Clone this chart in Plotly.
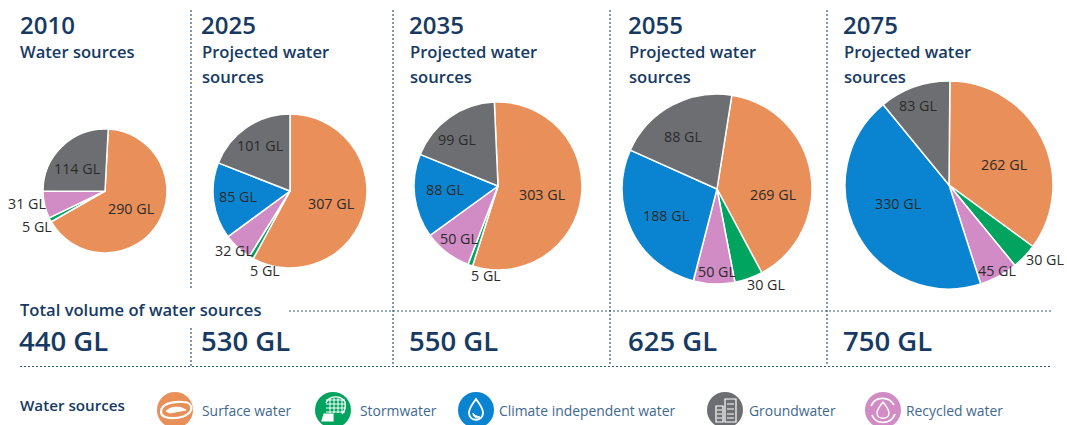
import plotly.graph_objects as go

W, H = 1067, 425
NAVY = "#163a63"
DASH = "#2f5878"
FONT = "Open Sans"

years = ["2010", "2025", "2035", "2055", "2075"]
subtitles = ["Water sources", "Projected water<br>sources", "Projected water<br>sources",
             "Projected water<br>sources", "Projected water<br>sources"]
totals = ["440 GL", "530 GL", "550 GL", "625 GL", "750 GL"]
sources = ["Surface water", "Stormwater", "Recycled water", "Climate independent water", "Groundwater"]
colors = ["#e98f59", "#00a45f", "#d18cc6", "#0a84d0", "#6d6e71"]

# printed values
surface = [290, 307, 303, 269, 262]
storm = [5, 5, 5, 30, 30]
recycled = [31, 32, 50, 50, 45]
climate = [0, 85, 88, 188, 330]
ground = [114, 101, 99, 88, 83]
# wedge sizes as drawn in the picture (the 2055 pie's wedges are not to its printed values)
drawn_2055 = [248, 30, 44, 173, 130]
rotations = [3, 0, 357.5, 9, 0.5]

pie_cx = [105, 290, 498, 717, 949]
pie_cy = [191, 191, 186, 189, 185]
pie_r = [62, 77, 84, 95, 104]
head_x = [20, 201, 409, 628, 843]
total_x = [19, 201, 409, 628, 843]
# label positions (px) per pie, in source order
label_xy = [
    [(131, 208), (37, 226), (27, 203), None, (77, 168)],
    [(331, 203), (265, 270), (234, 250), (238, 196), (260, 145)],
    [(542, 195), (486, 275), (459, 238), (445, 189), (457, 139)],
    [(773, 194), (766, 284), (717, 271), (666, 216), (683, 136)],
    [(1004, 164), (1045, 259), (997, 270), (898, 203), (918, 106)],
]
legend_names = ["Surface water", "Stormwater", "Climate independent water", "Groundwater", "Recycled water"]
legend_cols = ["#e98f59", "#00a45f", "#0a84d0", "#6d6e71", "#d18cc6"]
legend_cx = [175, 333, 476, 725, 883]
legend_tx = [202, 360, 499, 749, 906]


def px(x):
    return x / W


def py(y):
    return 1 - y / H


fig = go.Figure()
ann = []
shapes = []


def text(x, y, s, size, color=NAVY, anchor="left", weight=400):
    ann.append(dict(x=px(x), y=py(y), xref="paper", yref="paper", text=s, borderpad=0, borderwidth=0,
                    showarrow=False, xanchor=anchor, yanchor="middle", align="left",
                    font=dict(family=FONT, size=size, color=color, weight=weight)))


for i, yr in enumerate(years):
    printed = [surface[i], storm[i], recycled[i], climate[i], ground[i]]
    vals = drawn_2055 if yr == "2055" else printed
    cx, cy, r = pie_cx[i], pie_cy[i], pie_r[i]
    fig.add_trace(go.Pie(
        labels=sources, values=vals, sort=False, direction="clockwise", rotation=rotations[i],
        textinfo="none", hoverinfo="label", showlegend=False,
        marker=dict(colors=colors, line=dict(color="white", width=1.5)),
        domain=dict(x=[px(cx - r), px(cx + r)], y=[py(cy + r), py(cy - r)]),
    ))
    for v, xy in zip(printed, label_xy[i]):
        if xy is not None:
            text(xy[0], xy[1], f"{v} GL", 14.3, "#2b2b2b", "center")
    text(head_x[i], 24.5, yr, 24, weight=600)
    sub = subtitles[i].split("<br>")
    text(head_x[i] + (0 if not i else 1), 51.5, sub[0], 16.6, weight=600)
    if len(sub) > 1:
        text(head_x[i] + 1, 76, sub[1], 16.6, weight=600)
    text(total_x[i], 340.5, totals[i], 27.5, weight=600)

text(20, 309, "Total volume of water sources", 16.6, weight=600)
text(20, 405, "Water sources", 15.2, weight=600)


def line(x0, y0, x1, y1):
    shapes.append(dict(type="line", xref="paper", yref="paper", x0=px(x0), y0=py(y0), x1=px(x1), y1=py(y1),
                       line=dict(color=DASH, width=1.2, dash="2px,2px")))


line(191, 10, 191, 290)
line(191, 328, 191, 366)
for x in (393, 610, 827):
    line(x, 10, x, 366)
line(289, 311, 1052, 311)
line(20, 366.5, 1052, 366.5)

for cx, col, name, tx in zip(legend_cx, legend_cols, legend_names, legend_tx):
    shapes.append(dict(type="circle", xref="paper", yref="paper", x0=px(cx - 18), x1=px(cx + 18),
                       y0=py(410 + 18), y1=py(410 - 18), fillcolor=col, line=dict(width=0)))
    text(tx, 410, name, 13.9, "#41688f")


def glyph(cmds, width=1.6, fill="rgba(0,0,0,0)"):
    out = []
    for c in cmds:
        if isinstance(c, str):
            out.append(c)
        else:
            out.append(f"{px(c[0]):.5f},{py(c[1]):.5f}")
    shapes.append(dict(type="path", xref="paper", yref="paper", path=" ".join(out), fillcolor=fill,
                       line=dict(color="white", width=width)))


def g_line(x0, y0, x1, y1, width=1.2):
    glyph(["M", (x0, y0), "L", (x1, y1)], width)


# surface water
glyph(["M", (161, 412), "C", (161, 404), (172, 401), (183, 402), "C", (192, 402), (193, 409), (189, 413),
       "C", (183, 419), (161, 421), (161, 412), "Z"], 2.2)
glyph(["M", (166, 411), "C", (172, 406), (180, 406), (186, 410), "L", (170, 413), "Z"], 1, "white")
# stormwater
glyph(["M", (326, 403), "C", (329, 395), (341, 395), (345, 402), "C", (346, 408), (345, 411), (342, 414)], 1.4)
for x in (330, 334, 338, 342):
    g_line(x, 398, x, 413, 1)
for y in (400, 404, 408, 412):
    g_line(326, y, 345, y, 1)
glyph(["M", (322, 421), "L", (324, 414), "L", (333, 414), "L", (333, 421), "Z"], 1.2, "white")
# drop
glyph(["M", (476, 399), "C", (480, 405), (483, 408), (483, 413), "C", (483, 422), (469, 422), (469, 413),
       "C", (469, 408), (472, 405), (476, 399), "Z"], 1.8)
glyph(["M", (473, 413), "C", (473, 418), (478, 419), (480, 417), "C", (476, 416), (474, 415), (473, 413), "Z"], 1, "white")
# groundwater
glyph(["M", (716, 422), "L", (716, 406), "L", (723, 406), "L", (723, 422), "Z"], 1.2)
glyph(["M", (725, 422), "L", (725, 399), "L", (736, 399), "L", (736, 422), "Z"], 1.2)
for y in (410, 414, 418):
    g_line(717, y, 722, y, 1)
for y in (404, 409, 414, 418):
    g_line(727, y, 734, y, 1)
# recycled water
glyph(["M", (871, 406), "C", (875, 396), (889, 396), (894, 405)], 1.8)
glyph(["M", (895, 414), "C", (891, 425), (876, 425), (872, 415)], 1.8)
glyph(["M", (883, 402), "C", (887, 407), (889, 410), (889, 413), "C", (889, 420), (877, 420), (877, 413),
       "C", (877, 410), (879, 407), (883, 402), "Z"], 1.4)

fig.update_layout(width=W, height=H, margin=dict(l=0, r=0, t=0, b=0), paper_bgcolor="white",
                  annotations=ann, shapes=shapes, showlegend=False)
fig.write_html("out.html", config=dict(displayModeBar=False),
               post_script="document.body.style.margin='0';document.body.style.overflow='hidden';")
